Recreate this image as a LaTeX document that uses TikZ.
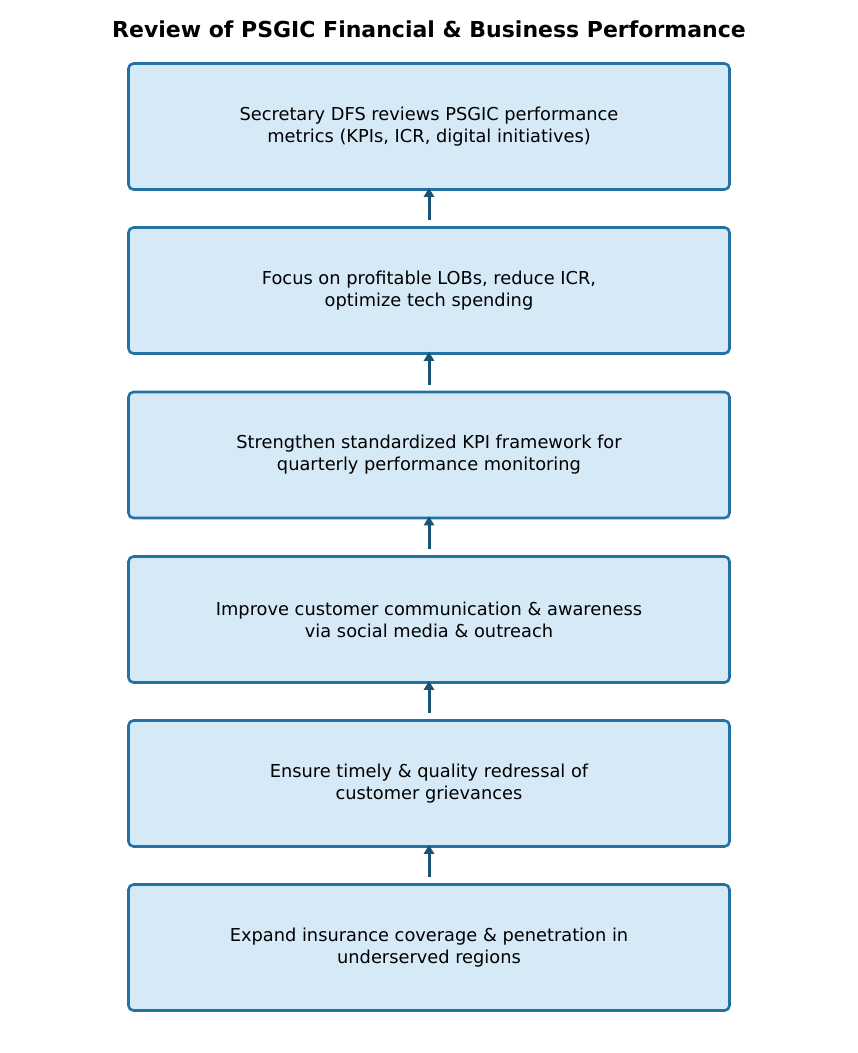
\documentclass[tikz,border=0pt]{standalone}
\usepackage{fontspec}
\setmainfont{DejaVu Sans}
\usetikzlibrary{arrows.meta}
\definecolor{boxfill}{HTML}{D6E9F7}
\definecolor{boxline}{HTML}{2471A3}
\definecolor{arrcol}{HTML}{1A5276}
\begin{document}
\begin{tikzpicture}[x=1pt,y=-1pt,
  stepbox/.style={draw=boxline, fill=boxfill, line width=2.6pt, rounded corners=5pt,
    minimum width=601pt, minimum height=126pt, align=center, inner sep=0pt,
    font=\fontsize{17.8}{22}\selectfont},
  flowarrow/.style={draw=arrcol, line width=3pt, -{Triangle[length=9pt,width=10pt]}}]
\useasboundingbox (0,0) rectangle (858,1053);
\node[font=\bfseries\fontsize{22}{26}\selectfont] (title) at (429,29) {Review of PSGIC Financial \& Business Performance};
\node[stepbox] (b1) at (429,126.5) {Secretary DFS reviews PSGIC performance\\metrics (KPIs, ICR, digital initiatives)};
\node[stepbox] (b2) at (429,290.5) {Focus on profitable LOBs, reduce ICR,\\optimize tech spending};
\node[stepbox] (b3) at (429,455) {Strengthen standardized KPI framework for\\quarterly performance monitoring};
\node[stepbox] (b4) at (429,619.5) {Improve customer communication \& awareness\\via social media \& outreach};
\node[stepbox] (b5) at (429,783.5) {Ensure timely \& quality redressal of\\customer grievances};
\node[stepbox] (b6) at (429,947.5) {Expand insurance coverage \& penetration in\\underserved regions};
\foreach \lo/\up in {b2/b1,b3/b2,b4/b3,b5/b4,b6/b5}{
  \draw[flowarrow] ([yshift=6pt]\lo.north) -- ([yshift=3pt]\up.south);
}
\end{tikzpicture}
\end{document}
